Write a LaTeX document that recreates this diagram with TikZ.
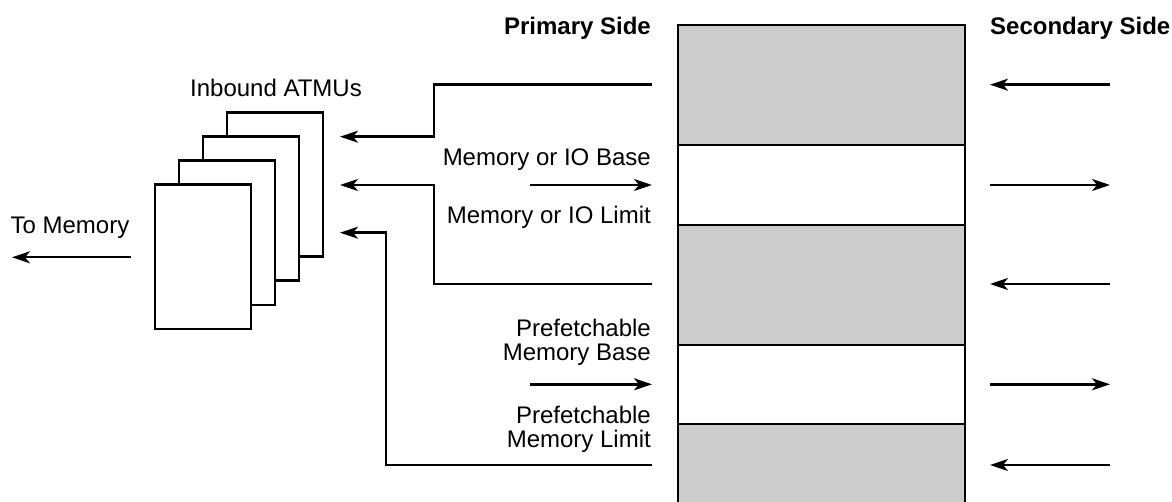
\documentclass[tikz,border=0pt]{standalone}
\usepackage{fontspec}
\setmainfont{Liberation Sans}
\usetikzlibrary{arrows.meta}

\begin{document}
\begin{tikzpicture}[x=0.5pt, y=-0.5pt, line width=1.2pt,
  lbl/.style={font=\fontsize{12}{12}\selectfont, inner sep=0pt},
  hdr/.style={font=\fontsize{12}{12}\selectfont\bfseries, inner sep=0pt},
  arr/.style={-{Stealth[length=9pt,width=6pt,inset=2.5pt]}},
  atmu/.style={draw, fill=white, minimum width=48pt, minimum height=72pt, inner sep=0pt},
  band/.style={draw, fill=black!20}]

\useasboundingbox (0,0) rectangle (1172,502);

% register column
\draw[band] (678,25) rectangle (965,145);
\draw (678,145) rectangle (965,225);
\draw[band] (678,225) rectangle (965,345);
\draw (678,345) rectangle (965,424);
\draw[band] (678,424) rectangle (965,530);

\node[hdr, anchor=east] (prim) at (652,28) {Primary Side};
\node[hdr, anchor=west] (sec) at (989,28) {Secondary Side};

% stack of ATMUs
\foreach \i in {3,2,1,0}
  \node[atmu] (atmu\i) at ({202.7+24*\i},{256.7-24*\i}) {};
\node[lbl] (inb) at (276,88) {Inbound ATMUs};

\node[lbl] (tomem) at (70,228) {To Memory};
\coordinate (tm1) at (131,257.3);
\coordinate (tm2) at (12,257.3);
\draw[arr] (tm1) -- (tm2);

% primary side windows
\node[lbl, anchor=east] (iobase) at (652,160) {Memory or IO Base};
\node[lbl, anchor=east] (iolim) at (652,217) {Memory or IO Limit};
\node[lbl, anchor=east, align=right] (pfbase) at (652,342) {Prefetchable\\Memory Base};
\node[lbl, anchor=east, align=right] (pflim) at (652,429) {Prefetchable\\Memory Limit};

\coordinate (in1) at (340,136.7);
\coordinate (in2) at (340,185);
\coordinate (in3) at (340,232.7);
\coordinate (pb1) at (652,84.7);
\coordinate (pb2) at (652,284);
\coordinate (pb3) at (652,465);

\draw[arr] (pb1) -| (434,136.7) -- (in1);
\draw[arr] (pb2) -| (434,185) -- (in2);
\draw[arr] (pb3) -| (385.7,232.7) -- (in3);

\coordinate (io1) at (530,185);
\coordinate (io2) at (652,185);
\coordinate (pf1) at (530,384.3);
\coordinate (pf2) at (652,384.3);
\draw[arr] (io1) -- (io2);
\draw[arr] (pf1) -- (pf2);

% secondary side
\foreach \y in {84.7,284,465}
  \draw[arr] (1110,\y) -- (990,\y);
\foreach \y in {185,384.3}
  \draw[arr] (990,\y) -- (1110,\y);

\end{tikzpicture}
\end{document}
